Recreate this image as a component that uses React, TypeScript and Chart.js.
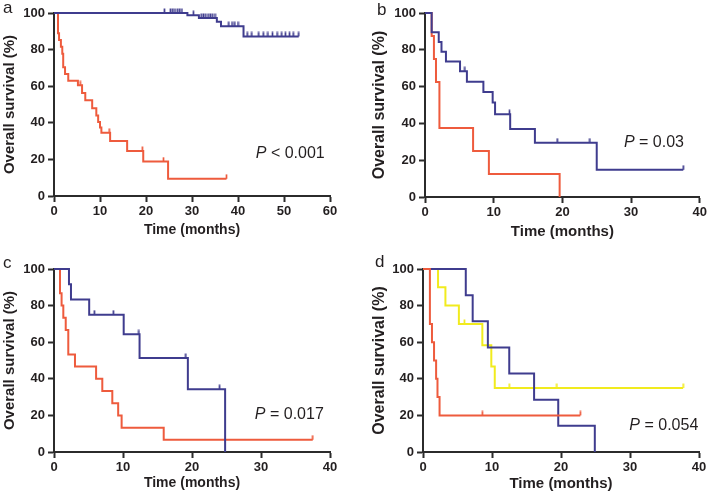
import React, { useEffect, useRef } from 'react';
import { Chart, registerables } from 'chart.js';

Chart.register(...registerables);

// ---------------- DATA ----------------
// Panel a
const aXMax = 60;
const aRedT = [0, 0.87, 1.1, 1.5, 1.8, 2.0, 2.4, 3.1, 5.2, 6.1, 6.8, 8.3, 9.2, 9.6, 10.0, 10.3, 12.2, 15.9, 19.4, 24.8, 37.5];
const aRedS = [100, 88.9, 85.2, 81.5, 77.8, 70.4, 66.7, 63.0, 60.5, 56.3, 52.3, 48.0, 44.0, 40.5, 37.5, 34.5, 30.0, 24.6, 18.8, 9.4, 9.4];
const aRedCens = [5.7, 12.0, 19.2, 23.8, 37.5];
const aBlueT = [0, 29.0, 31.5, 35.4, 36.3, 41.2, 53.2];
const aBlueS = [100, 98.8, 97.3, 95.2, 92.8, 87.2, 87.2];
const aBlueCens = [24.0, 25.3, 25.8, 26.3, 26.8, 27.3, 27.8, 30.3, 32.0, 32.5, 33.0, 33.5, 34.0, 34.5, 35.0, 38.0, 38.7, 39.3, 40.0, 42.0, 43.0, 44.5, 45.5, 46.5, 47.5, 48.5, 49.5, 50.3, 51.2, 52.0, 53.2];

// Panel b
const bXMax = 40;
const bRedT = [0, 0.97, 1.3, 1.6, 2.1, 7.0, 9.3, 19.6];
const bRedS = [100, 87.5, 75, 62.5, 37.5, 25, 12.5, 0];
const bRedCens: number[] = [];
const bBlueT = [0, 0.97, 2.0, 2.4, 3.05, 5.1, 6.1, 8.5, 9.85, 10.2, 12.4, 16.0, 25.0, 37.6];
const bBlueS = [100, 89.5, 84.2, 78.9, 73.7, 68.4, 62.7, 57.0, 51.3, 45.0, 37.0, 29.5, 14.8, 14.8];
const bBlueCens = [5.8, 12.3, 19.25, 24.0, 37.6];

// Panel c
const cXMax = 40;
const cRedT = [0, 0.87, 1.1, 1.35, 1.7, 2.07, 3.04, 6.1, 7.0, 8.45, 9.3, 9.8, 15.9, 37.5];
const cRedS = [100, 86.7, 80, 73.3, 66.7, 53.3, 46.7, 40, 33.3, 26.7, 20, 13.3, 6.7, 6.7];
const cRedCens = [37.5];
const cBlueT = [0, 2.17, 2.46, 5.1, 10.1, 12.4, 19.4, 24.8];
const cBlueS = [100, 91.7, 83.3, 75, 64.3, 51.4, 34.3, 0];
const cBlueCens = [5.85, 8.6, 12.3, 19.1, 24.0];

// Panel d
const dXMax = 40;
const dRedT = [0, 1.0, 1.3, 1.6, 1.9, 2.1, 2.4, 22.8];
const dRedS = [100, 70, 60, 50, 40, 30, 20, 20];
const dRedCens = [8.6, 22.8];
const dYelT = [0, 2.18, 3.25, 5.2, 8.6, 9.9, 10.4, 37.7];
const dYelS = [100, 90, 80, 70, 58.3, 46.7, 35, 35];
const dYelCens = [6.0, 12.5, 19.4, 37.7];
const dBlueT = [0, 6.2, 7.2, 9.4, 12.5, 16.1, 19.6, 24.9];
const dBlueS = [100, 85.7, 71.4, 57.1, 42.9, 28.6, 14.3, 0];
const dBlueCens: number[] = [];

const yTicksMax = 100;
const pTexts = ['P < 0.001', 'P = 0.03', 'P = 0.017', 'P = 0.054'];
const panelLetters = ['a', 'b', 'c', 'd'];
const xTitle = 'Time (months)';
const yTitle = 'Overall survival (%)';

// ---------------- STYLE ----------------
const FAM = "'Liberation Sans', Arial, Helvetica, sans-serif";
const TXT = '#231f20';
const AX = '#2b2b2b';
const BLUE = '#3f3c8e';
const RED = '#ee5b3d';
const YEL = '#f1eb1e';

function survAt(T: number[], S: number[], t: number) {
  let v = S[0];
  for (let i = 0; i < T.length; i++) if (T[i] <= t) v = S[i];
  return v;
}

function tickImg(color: string) {
  const c = document.createElement('canvas');
  c.width = 3;
  c.height = 10;
  const g = c.getContext('2d')!;
  g.strokeStyle = color;
  g.lineWidth = 1.7;
  g.beginPath();
  g.moveTo(1.5, 0.5);
  g.lineTo(1.5, 5);
  g.stroke();
  return c;
}

type Series = { T: number[]; S: number[]; cens: number[]; color: string };

type PanelCfg = {
  box: { x: number; y: number; w: number; h: number };
  area: { l: number; t: number; r: number; b: number };
  xMax: number;
  series: Series[];
  p: { text: string; x: number; y: number; size: number };
  letter: { text: string; x: number; y: number };
  yTitleSize: number;
  xTitleSize: number;
  yTitlePad: number;
  xTitlePad: number;
};

const panels: PanelCfg[] = [
  {
    box: { x: 0, y: 0, w: 354, h: 250 },
    area: { l: 54, t: 13, r: 330, b: 196 },
    xMax: aXMax,
    series: [
      { T: aBlueT, S: aBlueS, cens: aBlueCens, color: BLUE },
      { T: aRedT, S: aRedS, cens: aRedCens, color: RED },
    ],
    p: { text: pTexts[0], x: 58.85, y: 23.1, size: 16 },
    letter: { text: panelLetters[0], x: 3, y: 13 },
    yTitleSize: 15, xTitleSize: 14, yTitlePad: 1, xTitlePad: 11,
  },
  {
    box: { x: 362, y: 0, w: 347, h: 250 },
    area: { l: 425, t: 13, r: 700, b: 197 },
    xMax: bXMax,
    series: [
      { T: bBlueT, S: bBlueS, cens: bBlueCens, color: BLUE },
      { T: bRedT, S: bRedS, cens: bRedCens, color: RED },
    ],
    p: { text: pTexts[1], x: 37.7, y: 29.6, size: 16 },
    letter: { text: panelLetters[1], x: 15, y: 15 },
    yTitleSize: 16, xTitleSize: 15, yTitlePad: 8, xTitlePad: 9,
  },
  {
    box: { x: 0, y: 250, w: 354, h: 249 },
    area: { l: 54, t: 269, r: 330, b: 452 },
    xMax: cXMax,
    series: [
      { T: cBlueT, S: cBlueS, cens: cBlueCens, color: BLUE },
      { T: cRedT, S: cRedS, cens: cRedCens, color: RED },
    ],
    p: { text: pTexts[2], x: 39.1, y: 20.6, size: 16 },
    letter: { text: panelLetters[2], x: 3, y: 18 },
    yTitleSize: 15, xTitleSize: 14, yTitlePad: 1, xTitlePad: 7,
  },
  {
    box: { x: 362, y: 250, w: 347, h: 249 },
    area: { l: 423, t: 269, r: 699, b: 452 },
    xMax: dXMax,
    series: [
      { T: dRedT, S: dRedS, cens: dRedCens, color: RED },
      { T: dBlueT, S: dBlueS, cens: dBlueCens, color: BLUE },
      { T: dYelT, S: dYelS, cens: dYelCens, color: YEL },
    ],
    p: { text: pTexts[3], x: 39.9, y: 14.2, size: 16 },
    letter: { text: panelLetters[3], x: 13, y: 17 },
    yTitleSize: 16, xTitleSize: 15, yTitlePad: 8, xTitlePad: 6,
  },
];

const annotPlugin = {
  id: 'annot',
  afterDraw(chart: any, _args: any, opts: any) {
    const { ctx } = chart;
    const xs = chart.scales.x;
    const ys = chart.scales.y;
    const p = opts.p;
    ctx.save();
    ctx.fillStyle = TXT;
    ctx.textBaseline = 'middle';
    const px = xs.getPixelForValue(p.x);
    const py = ys.getPixelForValue(p.y);
    const first = p.text.slice(0, 1);
    const rest = p.text.slice(1);
    ctx.font = `${p.size}px ${FAM}`;
    const rw = ctx.measureText(rest).width;
    ctx.textAlign = 'left';
    ctx.fillText(rest, px - rw, py);
    ctx.font = `italic ${p.size}px ${FAM}`;
    ctx.textAlign = 'right';
    ctx.fillText(first, px - rw, py);
    const L = opts.letter;
    ctx.font = `17px ${FAM}`;
    ctx.textBaseline = 'alphabetic';
    ctx.textAlign = 'left';
    ctx.fillText(L.text, L.x, L.y);
    ctx.restore();
  },
};

function Panel({ cfg }: { cfg: PanelCfg }) {
  const ref = useRef<HTMLCanvasElement>(null);
  useEffect(() => {
    const { box, area } = cfg;
    const datasets: any[] = [];
    cfg.series.forEach((s) => {
      datasets.push({
        data: s.T.map((t, i) => ({ x: t, y: s.S[i] })),
        borderColor: s.color,
        borderWidth: 2,
        pointRadius: 0,
        stepped: true,
        fill: false,
        tension: 0,
        clip: false,
      });
    });
    cfg.series.forEach((s) => {
      if (!s.cens.length) return;
      datasets.push({
        data: s.cens.map((t) => ({ x: t, y: survAt(s.T, s.S, t) })),
        showLine: false,
        pointStyle: tickImg(s.color),
        pointRadius: 3,
        borderColor: s.color,
        backgroundColor: s.color,
        clip: false,
      });
    });
    const tickFont = { family: FAM, size: 13, weight: 'bold' as const };
    const chart = new Chart(ref.current!, {
      type: 'line',
      data: { datasets },
      plugins: [annotPlugin as any],
      options: {
        responsive: false,
        animation: false,
        events: [],
        layout: {
          padding: { left: 0, top: area.t - box.y, right: box.x + box.w - area.r, bottom: 0 },
        },
        plugins: {
          legend: { display: false },
          tooltip: { enabled: false },
          annot: { p: cfg.p, letter: cfg.letter },
        } as any,
        scales: {
          x: {
            type: 'linear',
            min: 0,
            max: cfg.xMax,
            afterFit: (s: any) => { s.height = box.y + box.h - area.b; },
            ticks: { stepSize: 10, font: tickFont, color: TXT, padding: 2, maxRotation: 0, autoSkip: false },
            grid: { display: true, drawOnChartArea: false, drawTicks: true, tickLength: 6, tickWidth: 2, tickColor: AX, color: AX },
            border: { display: true, color: AX, width: 2 },
            title: { display: true, text: xTitle, color: TXT, font: { family: FAM, size: cfg.xTitleSize, weight: 'bold' }, padding: { top: 0, bottom: cfg.xTitlePad } },
          },
          y: {
            type: 'linear',
            min: 0,
            max: yTicksMax,
            afterFit: (s: any) => { s.width = area.l - box.x; },
            ticks: { stepSize: 20, font: tickFont, color: TXT, padding: 3 },
            grid: { display: true, drawOnChartArea: false, drawTicks: true, tickLength: 6, tickWidth: 2, tickColor: AX, color: AX },
            border: { display: true, color: AX, width: 2 },
            title: { display: true, text: yTitle, color: TXT, font: { family: FAM, size: cfg.yTitleSize, weight: 'bold' }, padding: { top: cfg.yTitlePad, bottom: 0 } },
          },
        },
      } as any,
    });
    return () => chart.destroy();
  }, [cfg]);
  return (
    <canvas
      ref={ref}
      width={cfg.box.w}
      height={cfg.box.h}
      style={{ position: 'absolute', left: cfg.box.x, top: cfg.box.y, width: cfg.box.w, height: cfg.box.h }}
    />
  );
}

export default function App() {
  return (
    <div style={{ position: 'absolute', left: 0, top: 0, width: 709, height: 499, background: '#fff', overflow: 'hidden' }}>
      {panels.map((p, i) => (
        <Panel key={i} cfg={p} />
      ))}
    </div>
  );
}
